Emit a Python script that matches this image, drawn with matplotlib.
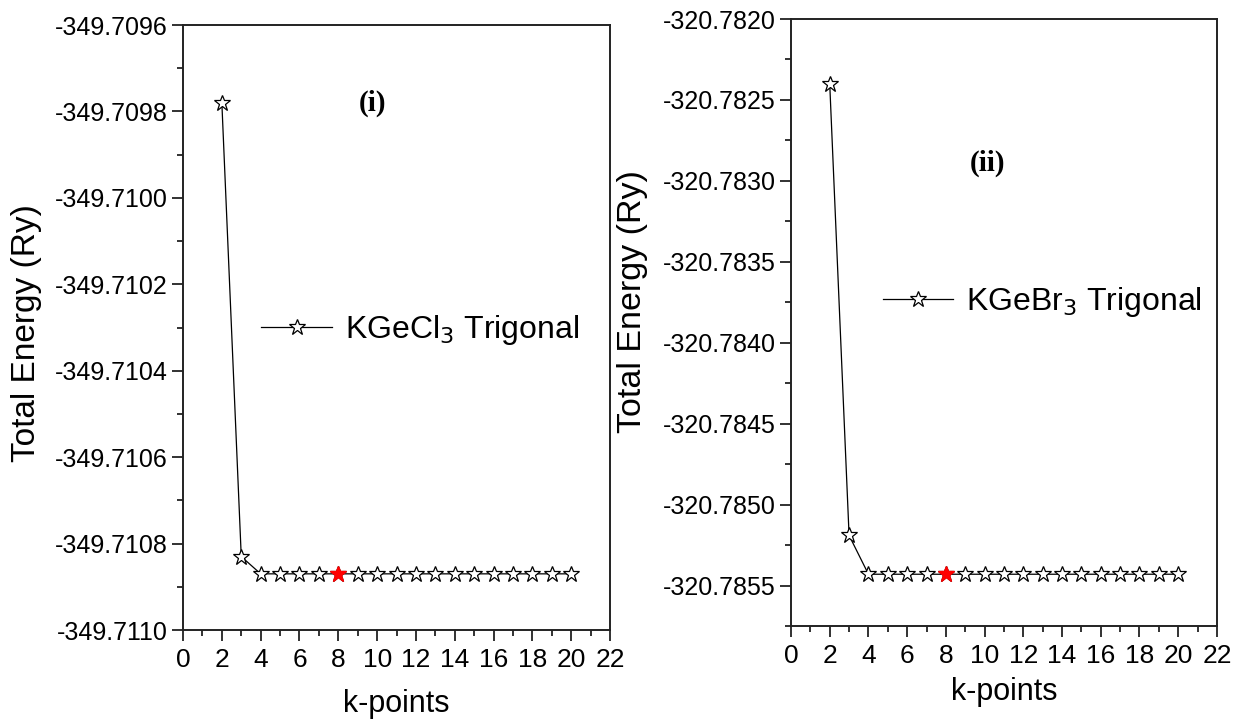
import matplotlib
matplotlib.use("Agg")
import matplotlib.pyplot as plt
from matplotlib.ticker import MultipleLocator, FormatStrFormatter

plt.rcParams['font.family'] = ['Liberation Sans', 'DejaVu Sans']

# k-point grid and converged total energies (Ry)
kpoints = list(range(2, 21))
e_cl = [-349.70978, -349.71083] + [-349.71087] * 17
e_br = [-320.78240, -320.78519] + [-320.78543] * 17
k_sel = 8  # chosen k-point, highlighted in red

fig = plt.figure(figsize=(12.4, 7.26), dpi=100)
ax1 = fig.add_axes([0.1476, 0.1322, 0.3444, 0.8333])
ax2 = fig.add_axes([0.6379, 0.1377, 0.3435, 0.8361])

panels = [
    (ax1, e_cl, r'KGeCl$_3$ Trigonal', '(i)', (-349.7110, -349.7096), 0.0002,
     (0.555, 0.496), (0.443, 0.871), (-0.330, 0.491), (0.5, -0.097), 24),
    (ax2, e_br, r'KGeBr$_3$ Trigonal', '(ii)', (-320.78575, -320.7820), 0.0005,
     (0.59, 0.534), (0.462, 0.763), (-0.336, 0.534), (0.5, -0.084), 24.5),
]

for ax, e, lab, tag, ylim, ystep, legpos, tagpos, ylpos, xlpos, ylsize in panels:
    ax.plot(kpoints, e, color='black', lw=0.9, marker='*', ms=12,
            mfc='white', mec='black', mew=0.9, label=lab)
    i = kpoints.index(k_sel)
    ax.plot(kpoints[i], e[i], marker='*', ms=12, color='red', ls='none')
    ax.set_xlim(0, 22)
    ax.set_ylim(*ylim)
    ax.xaxis.set_major_locator(MultipleLocator(2))
    ax.xaxis.set_minor_locator(MultipleLocator(1))
    ax.yaxis.set_major_locator(MultipleLocator(ystep))
    ax.yaxis.set_minor_locator(MultipleLocator(ystep / 2))
    ax.yaxis.set_major_formatter(FormatStrFormatter('%.4f'))
    ax.tick_params(which='both', direction='out', top=False, right=False,
                   width=1.3, color='#222222')
    ax.tick_params(axis='y', labelsize=18, pad=3)
    ax.tick_params(axis='x', labelsize=19, pad=5)
    ax.tick_params(which='major', length=8)
    ax.tick_params(which='minor', length=4)
    for s in ax.spines.values():
        s.set_linewidth(1.4)
        s.set_color('#222222')
    ax.set_xlabel('k-points', fontsize=22)
    ax.set_ylabel('Total Energy (Ry)', fontsize=ylsize)
    ax.yaxis.set_label_coords(*ylpos)
    ax.xaxis.set_label_coords(*xlpos)
    ax.legend(loc='center', bbox_to_anchor=legpos, frameon=False,
              fontsize=23, handlelength=2.2, handletextpad=0.4)
    ax.text(*tagpos, tag, transform=ax.transAxes, ha='center', va='center',
            fontsize=21, fontweight='bold', family='Liberation Serif')

fig.savefig('out.png', dpi=100)
